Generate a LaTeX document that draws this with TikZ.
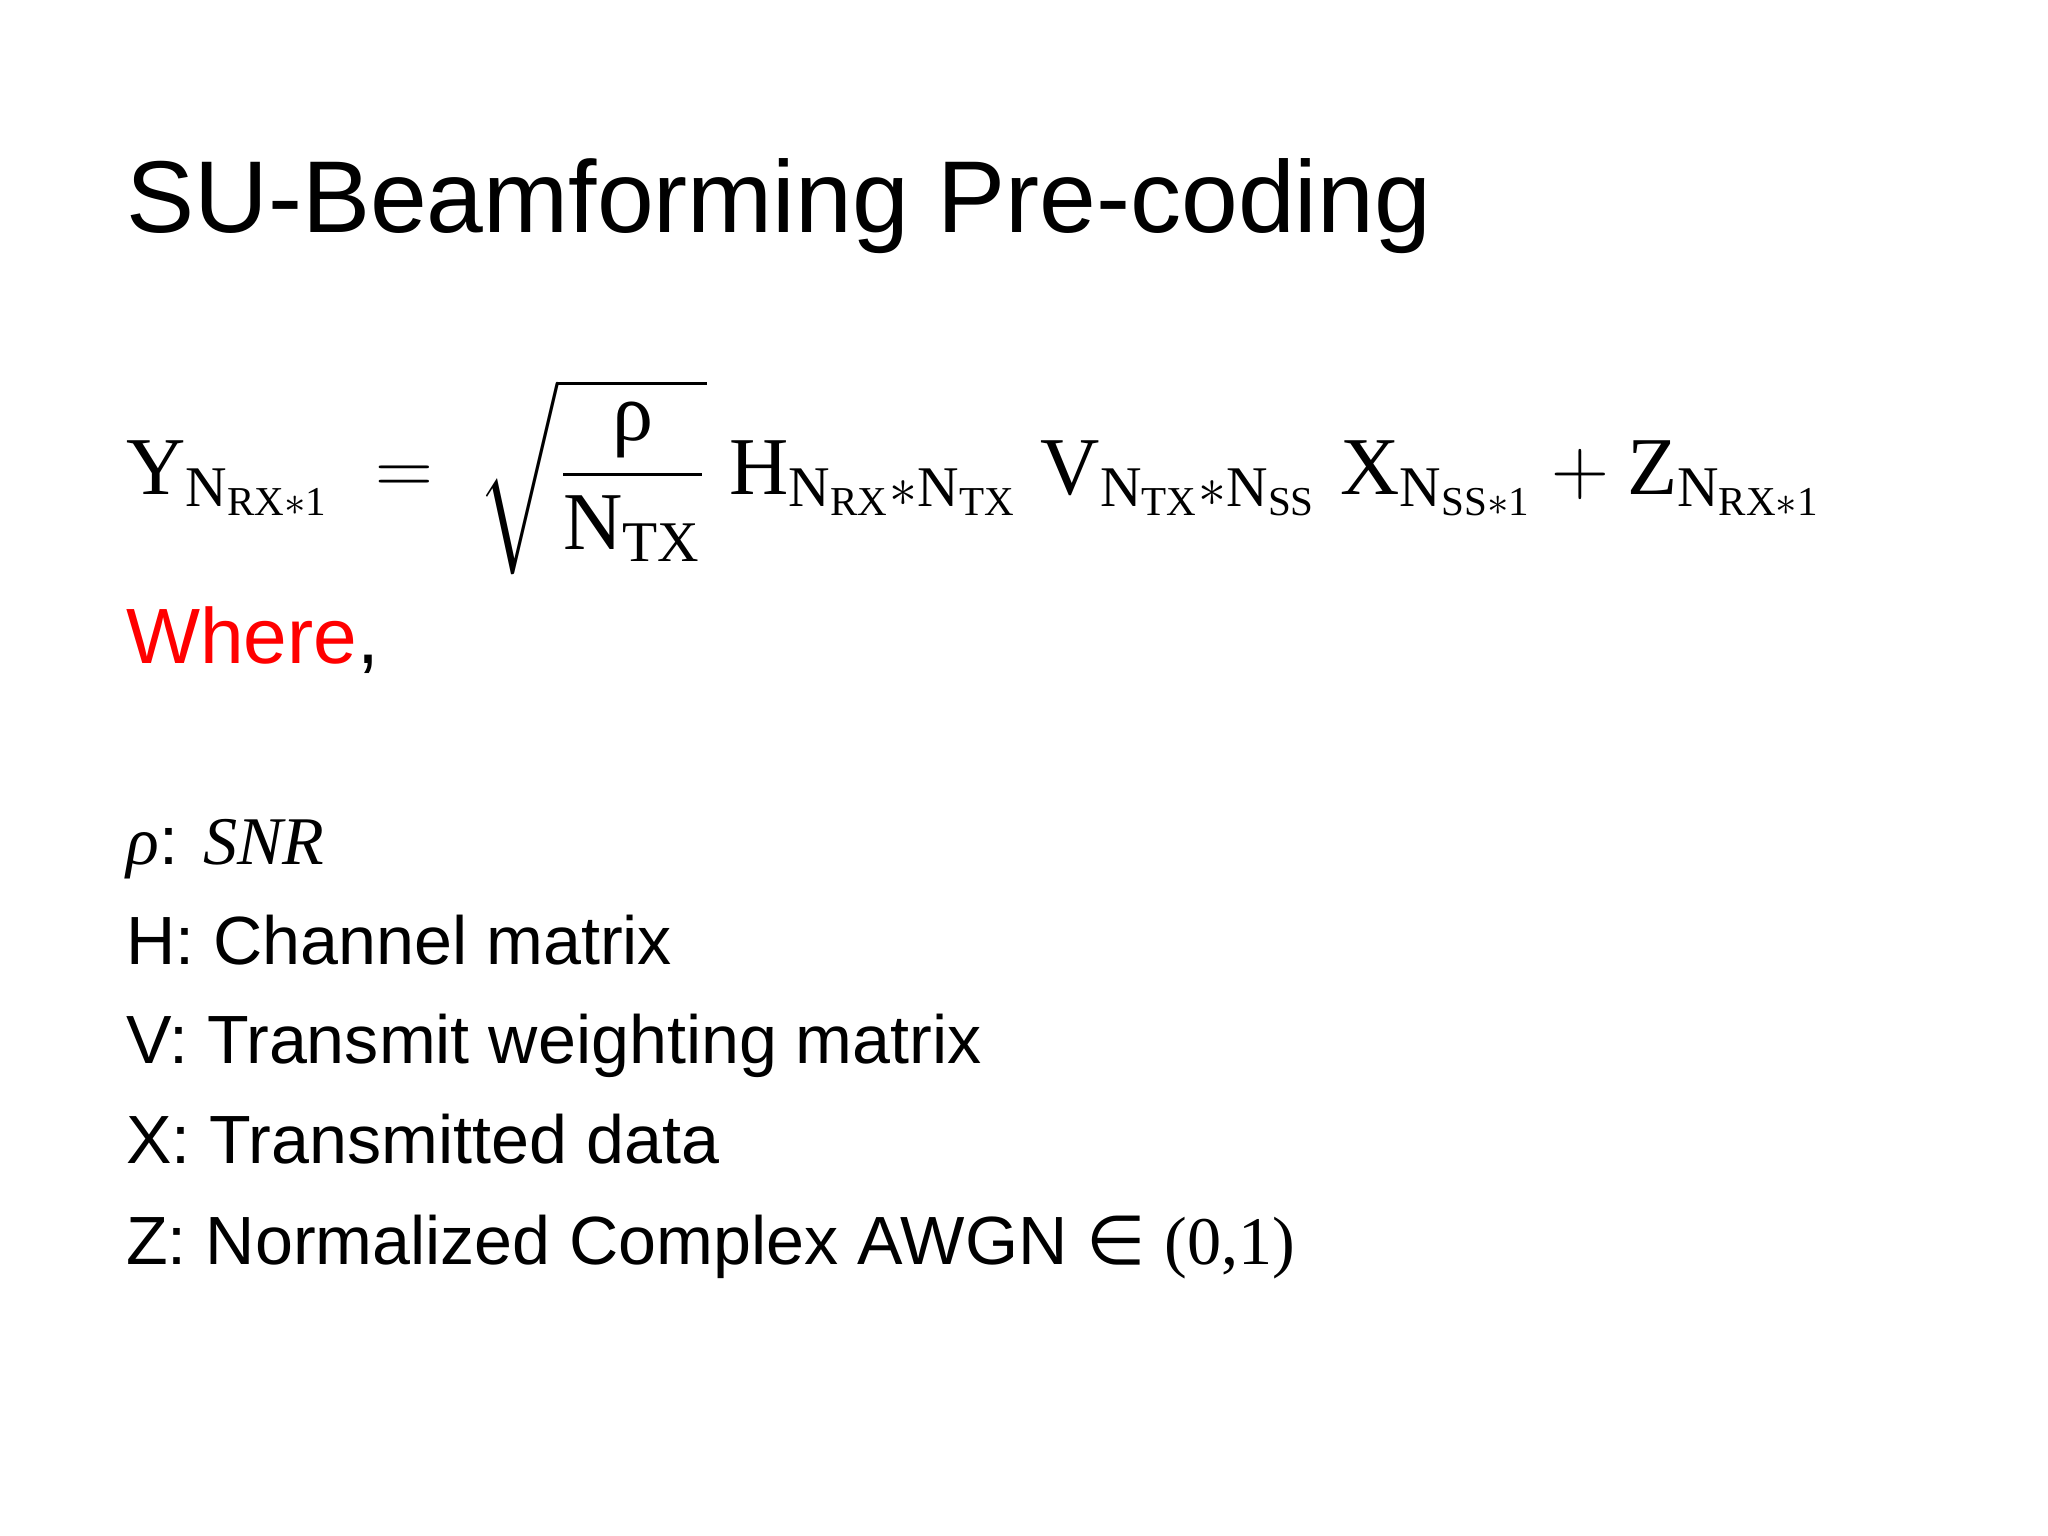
\documentclass[tikz,border=0pt]{standalone}
\usepackage{amsmath}
\usepackage{fontspec}
\setmainfont{Liberation Sans}
\newfontfamily\eqfont{Liberation Serif}
\newfontfamily\symfont{DejaVu Sans}
\newcommand\er[1]{\text{\eqfont #1}}
\begin{document}
\begin{tikzpicture}[x=0.01cm,y=-0.01cm,
  txt/.style={anchor=base west,inner sep=0pt,font=\fontsize{14.7}{18}\selectfont}]
\useasboundingbox (0,0) rectangle (1552,1164);
\node[anchor=base west,inner sep=0pt,font=\fontsize{22}{27}\selectfont] (title) at (95,176) {SU-Beamforming Pre-coding};
\node[anchor=base west,inner sep=0pt,font=\fontsize{17.7}{22}\selectfont] (eq) at (95,375)
 {$\er{Y}_{\er{N}_{\er{RX}*\er{1}}} \;=\; \sqrt{\dfrac{\er{ρ}}{\er{N}_{\er{TX}}}}\;\er{H}_{\er{N}_{\er{RX}}*\er{N}_{\er{TX}}}\;\er{V}_{\er{N}_{\er{TX}}*\er{N}_{\er{SS}}}\;\er{X}_{\er{N}_{\er{SS}*\er{1}}}+\er{Z}_{\er{N}_{\er{RX}*\er{1}}}$};
\node[txt,font=\fontsize{16.9}{20}\selectfont] (where) at (95,503) {\textcolor{red}{Where},};
\node[txt] (rho) at (95,655) {{\eqfont\itshape ρ}: {\eqfont\itshape SNR}};
\node[txt] (h) at (95,731) {H: Channel matrix};
\node[txt] (v) at (95,806) {V: Transmit weighting matrix};
\node[txt] (x) at (95,882) {X: Transmitted data};
\node[txt] (z) at (95,958) {Z: Normalized Complex AWGN {\symfont ∈} {\eqfont (0,1)}};
\end{tikzpicture}
\end{document}
